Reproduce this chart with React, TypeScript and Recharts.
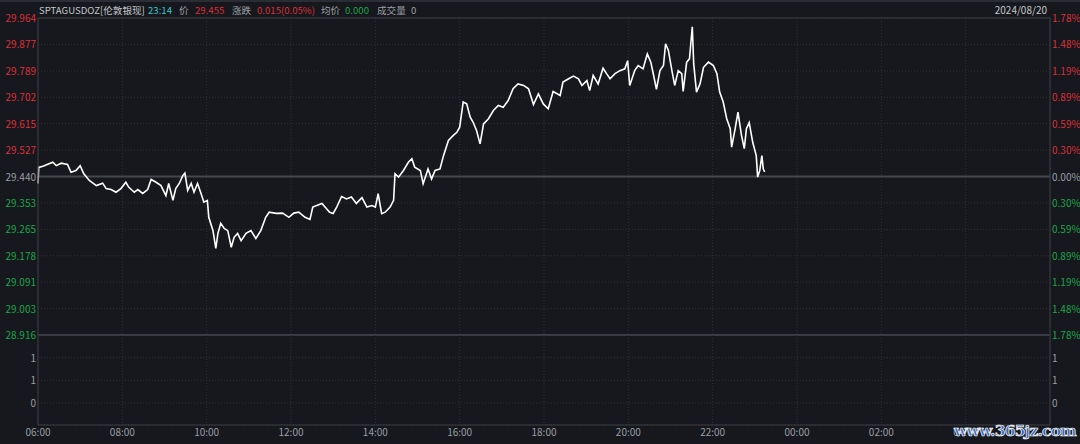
import React from "react";
import {
  LineChart,
  Line,
  BarChart,
  Bar,
  XAxis,
  YAxis,
  CartesianGrid,
  ReferenceLine,
} from "recharts";

// minutes after 06:00
const minutes = [
  0, 1, 7, 21, 26, 33, 42, 47, 54, 60, 65, 73, 83, 92, 97, 104, 111, 118, 125, 129,
  137, 142, 149, 156, 161, 168, 175, 182, 186, 192, 196, 201, 206, 209, 213, 218, 222, 227, 232, 236,
  241, 243, 249, 253, 256, 260, 265, 270, 275, 279, 284, 289, 296, 303, 310, 317, 324, 329, 339, 348,
  357, 364, 371, 380, 387, 391, 404, 415, 420, 425, 432, 439, 446, 453, 461, 468, 475, 480, 484, 489,
  494, 501, 506, 508, 513, 520, 527, 532, 536, 544, 548, 555, 560, 565, 572, 577, 584, 591, 596, 600,
  605, 610, 615, 619, 624, 629, 634, 641, 648, 655, 662, 669, 676, 683, 691, 698, 705, 712, 719, 726,
  733, 743, 747, 755, 762, 769, 774, 781, 785, 790, 797, 804, 809, 814, 821, 828, 835, 839, 842, 849,
  854, 861, 867, 872, 876, 880, 885, 890, 893, 897, 902, 906, 911, 916, 918, 923, 927, 931, 933, 937,
  942, 947, 954, 961, 966, 970, 975, 980, 985, 987, 992, 996, 1001, 1005, 1008, 1012, 1017, 1022, 1024, 1027,
  1030, 1032, 1034,
];

const prices = [
  29.417, 29.47, 29.474, 29.487, 29.476, 29.484, 29.48, 29.454, 29.46, 29.476, 29.45, 29.427, 29.41, 29.418, 29.4, 29.397, 29.388, 29.4, 29.421, 29.405,
  29.388, 29.397, 29.384, 29.397, 29.43, 29.421, 29.41, 29.377, 29.417, 29.361, 29.4, 29.417, 29.443, 29.451, 29.394, 29.417, 29.388, 29.417, 29.384, 29.355,
  29.361, 29.305, 29.261, 29.202, 29.252, 29.285, 29.268, 29.261, 29.206, 29.239, 29.252, 29.228, 29.252, 29.261, 29.235, 29.261, 29.305, 29.322, 29.318, 29.319,
  29.305, 29.319, 29.322, 29.305, 29.298, 29.339, 29.351, 29.322, 29.318, 29.339, 29.374, 29.366, 29.372, 29.351, 29.37, 29.339, 29.344, 29.339, 29.383, 29.317,
  29.322, 29.339, 29.361, 29.449, 29.438, 29.46, 29.487, 29.499, 29.471, 29.46, 29.416, 29.465, 29.432, 29.46, 29.465, 29.509, 29.559, 29.576, 29.586, 29.603,
  29.686, 29.68, 29.636, 29.62, 29.592, 29.548, 29.614, 29.631, 29.658, 29.675, 29.669, 29.691, 29.73, 29.746, 29.741, 29.73, 29.678, 29.713, 29.68, 29.664,
  29.721, 29.708, 29.752, 29.763, 29.772, 29.763, 29.741, 29.757, 29.724, 29.774, 29.746, 29.798, 29.78, 29.763, 29.78, 29.79, 29.796, 29.823, 29.741, 29.79,
  29.807, 29.796, 29.845, 29.818, 29.774, 29.728, 29.79, 29.807, 29.879, 29.857, 29.79, 29.741, 29.79, 29.78, 29.721, 29.818, 29.829, 29.935, 29.813, 29.719,
  29.746, 29.801, 29.818, 29.807, 29.78, 29.719, 29.686, 29.631, 29.598, 29.537, 29.598, 29.653, 29.576, 29.532, 29.598, 29.618, 29.553, 29.509, 29.438, 29.46,
  29.509, 29.465, 29.455,
];

const basePrice = 29.44;
const priceTicks = [29.964, 29.877, 29.789, 29.702, 29.615, 29.527, 29.44, 29.353, 29.265, 29.178, 29.091, 29.003, 28.916];
const pctLabels = ["1.78%", "1.48%", "1.19%", "0.89%", "0.59%", "0.30%", "0.00%", "0.30%", "0.59%", "0.89%", "1.19%", "1.48%", "1.78%"];
const timeTicks = [0, 120, 240, 360, 480, 600, 720, 840, 960, 1080, 1200, 1320, 1440];
const timeLabels = ["06:00", "08:00", "10:00", "12:00", "14:00", "16:00", "18:00", "20:00", "22:00", "00:00", "02:00", "04:00", ""];
const volTicks = [0, 0.667, 1.333];
const volLabels = ["0", "1", "1"];
const volumes = minutes.map(() => 0);

const RED = "#dc2f38";
const GREEN = "#1ba64a";
const GRAY = "#9b9ea3";
const GRID = "#2e3137";
const BORDER = "#3a3d43";
const BG = "#16181d";
const FONT = "'Noto Sans CJK SC', 'Noto Sans', sans-serif";

const priceData = minutes.map((m, i) => ({ m, price: prices[i] }));
const volData = minutes.map((m, i) => ({ m, vol: volumes[i] }));

const colorFor = (v: number) => (Math.abs(v - basePrice) < 0.0005 ? GRAY : v > basePrice ? RED : GREEN);

function LeftTick(props: any) {
  const { x, y, payload } = props;
  return (
    <text x={x} y={y} dy={4} textAnchor="end" fontSize={10} fontFamily={FONT} fill={colorFor(payload.value)}>
      {payload.value.toFixed(3)}
    </text>
  );
}

function RightTick(props: any) {
  const { x, y, payload, index } = props;
  return (
    <text x={x} y={y} dy={4} textAnchor="start" fontSize={10} fontFamily={FONT} fill={colorFor(payload.value)}>
      {pctLabels[index]}
    </text>
  );
}

function VolTick(props: any) {
  const { x, y, index, textAnchor } = props;
  return (
    <text x={x} y={y} dy={4} textAnchor={textAnchor} fontSize={10} fontFamily={FONT} fill={GRAY}>
      {volLabels[index]}
    </text>
  );
}

const headerItems = [
  { text: "SPTAGUSDOZ[伦敦银现]", color: "#c4c6ca", left: 39 },
  { text: "23:14", color: "#3cc4cc", left: 148 },
  { text: "价", color: GRAY, left: 179 },
  { text: "29.455", color: RED, left: 195 },
  { text: "涨跌", color: GRAY, left: 232 },
  { text: "0.015(0.05%)", color: RED, left: 257 },
  { text: "均价", color: GRAY, left: 321 },
  { text: "0.000", color: GREEN, left: 345 },
  { text: "成交量", color: GRAY, left: 377 },
  { text: "0", color: GRAY, left: 411 },
];

function Header() {
  return (
    <>
      {headerItems.map((h) => (
        <span
          key={h.left}
          style={{
            position: "absolute",
            left: h.left,
            top: 3,
            fontSize: 9.6,
            lineHeight: "14px",
            fontFamily: FONT,
            whiteSpace: "nowrap",
            color: h.color,
          }}
        >
          {h.text}
        </span>
      ))}
    </>
  );
}

export default function App() {
  return (
    <div style={{ position: "fixed", left: 0, top: 0, width: 1080, height: 444, background: BG, overflow: "hidden" }}>
      <div style={{ position: "absolute", left: 0, top: 0, width: 1080, height: 2, background: "#2a2d33" }} />
      <Header />
      <div
        style={{
          position: "absolute",
          right: 33,
          top: 3,
          fontSize: 10,
          lineHeight: "14px",
          fontFamily: FONT,
          color: "#c4c6ca",
        }}
      >
        2024/08/20
      </div>

      <div style={{ position: "absolute", left: 0, top: 0 }}>
        <LineChart width={1080} height={344} data={priceData} margin={{ top: 18, right: 0, bottom: 9, left: 0 }}>
          <CartesianGrid stroke={GRID} strokeDasharray="1 2" yAxisId="l" />
          <XAxis dataKey="m" type="number" domain={[0, 1440]} ticks={timeTicks} hide />
          <YAxis
            yAxisId="l"
            orientation="left"
            width={38}
            domain={[28.916, 29.964]}
            ticks={priceTicks}
            tick={<LeftTick />}
            tickLine={false}
            tickSize={0}
            tickMargin={2}
            axisLine={{ stroke: BORDER }}
            interval={0}
          />
          <YAxis
            yAxisId="r"
            orientation="right"
            width={30}
            domain={[28.916, 29.964]}
            ticks={priceTicks}
            tick={<RightTick />}
            tickLine={false}
            tickSize={0}
            tickMargin={2}
            axisLine={{ stroke: BORDER }}
            interval={0}
          />
          <ReferenceLine yAxisId="l" y={29.964} stroke={BORDER} />
          <ReferenceLine yAxisId="l" y={basePrice} stroke="#45484d" strokeWidth={2} />
          <ReferenceLine yAxisId="l" y={28.916} stroke={BORDER} strokeWidth={2} />
          <Line
            yAxisId="r"
            dataKey="price"
            type="linear"
            stroke="none"
            dot={false}
            activeDot={false}
            isAnimationActive={false}
          />
          <Line
            yAxisId="l"
            dataKey="price"
            type="linear"
            stroke="#ffffff"
            strokeWidth={1.6}
            dot={false}
            isAnimationActive={false}
          />
        </LineChart>
      </div>

      <div style={{ position: "absolute", left: 0, top: 335 }}>
        <BarChart width={1080} height={109} data={volData} margin={{ top: 0, right: 0, bottom: 0, left: 0 }}>
          <CartesianGrid stroke={GRID} strokeDasharray="1 2" yAxisId="l" />
          <XAxis
            dataKey="m"
            type="number"
            domain={[0, 1440]}
            ticks={timeTicks}
            tickFormatter={(v: number, i: number) => timeLabels[i]}
            height={19}
            tickLine={false}
            tickSize={0}
            tickMargin={4}
            axisLine={{ stroke: BORDER }}
            tick={{ fill: GRAY, fontSize: 10, fontFamily: FONT }}
            interval={0}
          />
          <YAxis
            yAxisId="l"
            orientation="left"
            width={38}
            domain={[-0.65, 2]}
            ticks={volTicks}
            tick={<VolTick />}
            tickLine={false}
            tickSize={0}
            tickMargin={2}
            axisLine={{ stroke: BORDER }}
            interval={0}
          />
          <YAxis
            yAxisId="r"
            orientation="right"
            width={30}
            domain={[-0.65, 2]}
            ticks={volTicks}
            tick={<VolTick />}
            tickLine={false}
            tickSize={0}
            tickMargin={2}
            axisLine={{ stroke: BORDER }}
            interval={0}
          />
          <Bar yAxisId="l" dataKey="vol" fill="#c4c6ca" isAnimationActive={false} />
          <Bar yAxisId="r" dataKey="vol" fill="#c4c6ca" isAnimationActive={false} />
        </BarChart>
      </div>

      <div
        style={{
          position: "absolute",
          left: 954,
          top: 421,
          fontSize: 15.5,
          fontWeight: "bold",
          fontFamily: "'DejaVu Serif', serif",
          color: "#3b68b8",
          WebkitTextStroke: "0.7px #ffffff",
          letterSpacing: -0.8,
          whiteSpace: "nowrap",
        }}
      >
        www.365jz.com
      </div>
    </div>
  );
}
